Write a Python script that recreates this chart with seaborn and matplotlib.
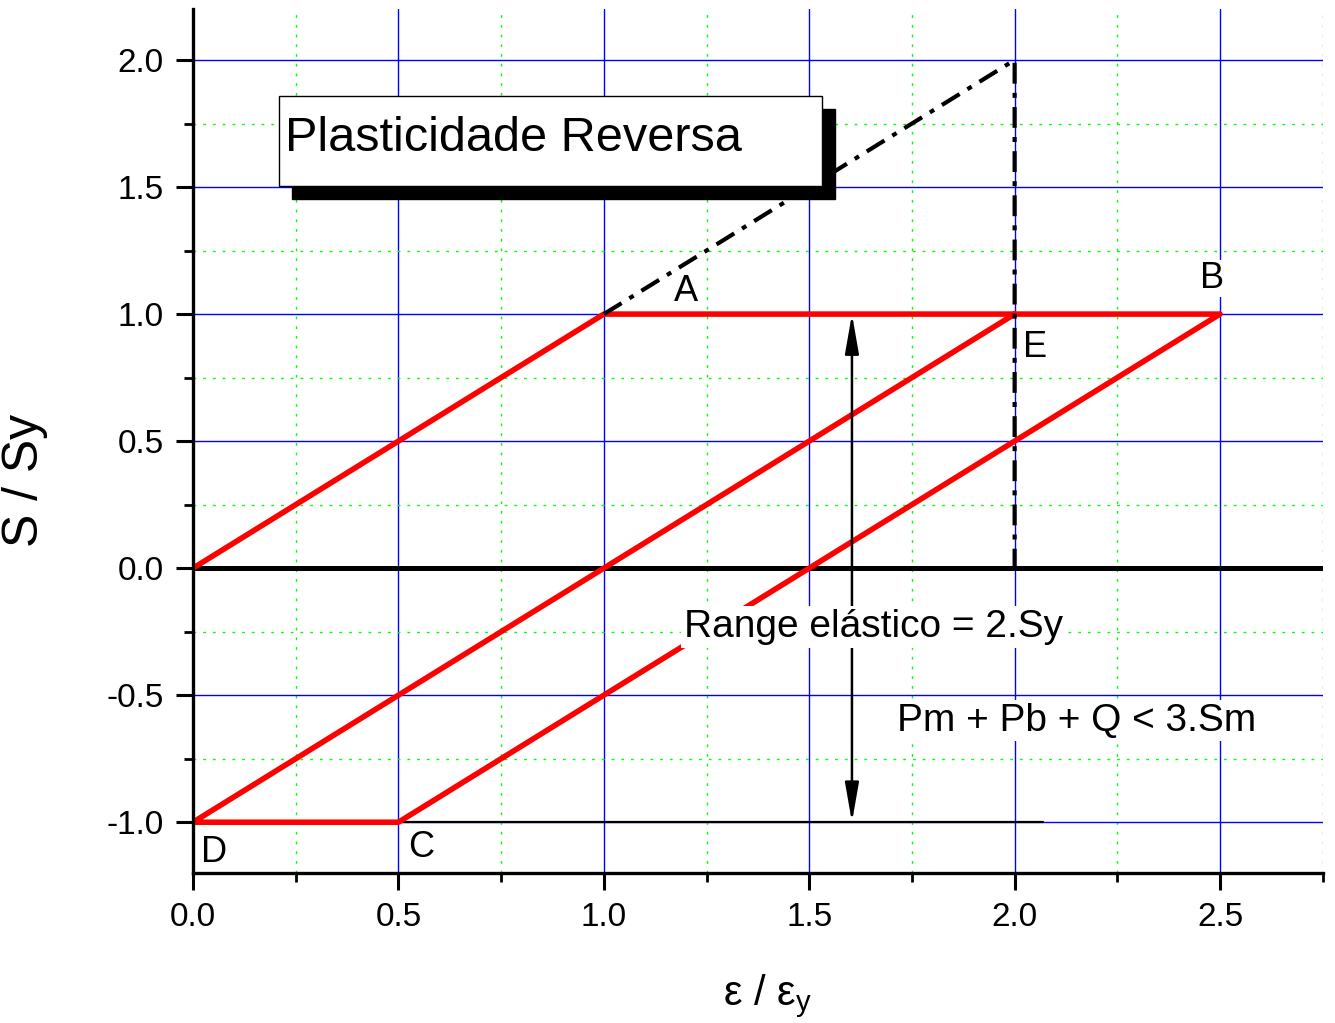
import numpy as np
import pandas as pd
import seaborn as sns
import matplotlib.pyplot as plt
from matplotlib.patches import Rectangle
from matplotlib.ticker import MultipleLocator

# Cycle path O -> A -> B -> C -> D -> E (strain / yield strain, stress / yield stress)
path_x = [0.0, 1.0, 2.5, 0.5, 0.0, 2.0]
path_y = [0.0, 1.0, 1.0, -1.0, -1.0, 1.0]

# elastic extension (dash-dot) up to 2.Sy and drop at eps = 2
ext_x = [1.0, 2.0, 2.0]
ext_y = [1.0, 2.0, 0.0]

# point labels
pt_names = ['A', 'B', 'E', 'D', 'C']
pt_x = [1.20, 2.48, 2.05, 0.05, 0.555]
pt_y = [1.09, 1.14, 0.87, -1.12, -1.10]

sns.set_style('white')
plt.rcParams['font.family'] = ['Liberation Sans', 'DejaVu Sans']
plt.rcParams['axes.unicode_minus'] = False
plt.rcParams['text.color'] = 'black'
plt.rcParams['axes.labelcolor'] = 'black'
plt.rcParams['mathtext.fontset'] = 'custom'
plt.rcParams['mathtext.rm'] = 'Liberation Sans'
plt.rcParams['mathtext.it'] = 'Liberation Sans'
plt.rcParams['mathtext.sf'] = 'Liberation Sans'

fig = plt.figure(figsize=(13.35, 10.23), dpi=100)
ax = fig.add_axes([0.1446, 0.1466, 0.8462, 0.8444])

ax.set_xlim(0, 2.75)
ax.set_ylim(-1.2, 2.2)

# grid
ax.xaxis.set_major_locator(MultipleLocator(0.5))
ax.xaxis.set_minor_locator(MultipleLocator(0.25))
ax.yaxis.set_major_locator(MultipleLocator(0.5))
ax.yaxis.set_minor_locator(MultipleLocator(0.25))
ax.grid(which='major', color='#0000ff', lw=1.0, ls='-', zorder=0)
ax.grid(which='minor', color='#00ff00', lw=1.0, ls=(0, (2, 5)), zorder=0)
ax.set_axisbelow(True)

# zero line and lower limit line
ax.axhline(0, color='black', linewidth=3.6, zorder=2)
ax.plot([0, 2.07], [-1, -1], color='black', linewidth=1.6, zorder=2)

df = pd.DataFrame({'x': path_x, 'y': path_y})
sns.lineplot(data=df, x='x', y='y', sort=False, estimator=None,
             color='#ff0000', linewidth=4.0, ax=ax, zorder=3)

ext = pd.DataFrame({'x': ext_x, 'y': ext_y})
sns.lineplot(data=ext, x='x', y='y', sort=False, estimator=None,
             color='black', linewidth=3.0, linestyle=(0, (5, 2.2, 1.2, 2.2)),
             ax=ax, zorder=4)

# double arrow for elastic range
ax.annotate('', xy=(1.604, 1.0), xytext=(1.604, -1.0),
            arrowprops=dict(arrowstyle='<|-|>,head_length=0.8,head_width=0.14',
                            color='black', lw=1.8,
                            mutation_scale=30, shrinkA=0, shrinkB=0), zorder=5)

# title box with shadow
ax.add_patch(Rectangle((0.241, 1.454), 1.322, 0.353, facecolor='black',
                       edgecolor='black', zorder=6))
ax.add_patch(Rectangle((0.209, 1.505), 1.322, 0.353, facecolor='white',
                       edgecolor='black', lw=1.0, zorder=7))
ax.text(0.225, 1.69, 'Plasticidade Reversa', fontsize=35, ha='left', va='center',
        zorder=8)

ax.text(1.195, -0.232, 'Range elástico = 2.Sy', fontsize=28, ha='left', va='center',
        zorder=8, bbox=dict(facecolor='white', edgecolor='none', pad=2))
ax.text(1.714, -0.60, 'Pm + Pb + Q < 3.Sm', fontsize=28, ha='left', va='center',
        zorder=8, bbox=dict(facecolor='white', edgecolor='none', pad=2))

for name, x, y in zip(pt_names, pt_x, pt_y):
    ax.text(x, y, name, fontsize=26, ha='center', va='center', zorder=8,
            bbox=dict(facecolor='white', edgecolor='none', pad=1))

# axes styling
for side in ['top', 'right']:
    ax.spines[side].set_visible(False)
for side in ['left', 'bottom']:
    ax.spines[side].set_color('black')
    ax.spines[side].set_linewidth(2.4)
    ax.spines[side].set_zorder(9)

ax.tick_params(which='major', direction='out', length=12, width=2.2, labelsize=24,
               colors='black', pad=9, left=True, bottom=True)
ax.tick_params(which='minor', direction='out', length=6.5, width=2.0,
               colors='black', left=True, bottom=True)
ax.set_xticks(np.arange(0, 2.51, 0.5))
ax.set_xticklabels(['0.0', '0.5', '1.0', '1.5', '2.0', '2.5'])
ax.set_yticks(np.arange(-1.0, 2.01, 0.5))
ax.set_yticklabels(['-1.0', '-0.5', '0.0', '0.5', '1.0', '1.5', '2.0'])

ax.set_ylabel('S / Sy', fontsize=36)
ax.yaxis.set_label_coords(-0.128, 0.455)
ax.set_xlabel(r'$\mathrm{ε\ /\ ε_y}$', fontsize=30)
ax.xaxis.set_label_coords(0.508, -0.115)

fig.savefig('out.png', dpi=100)
